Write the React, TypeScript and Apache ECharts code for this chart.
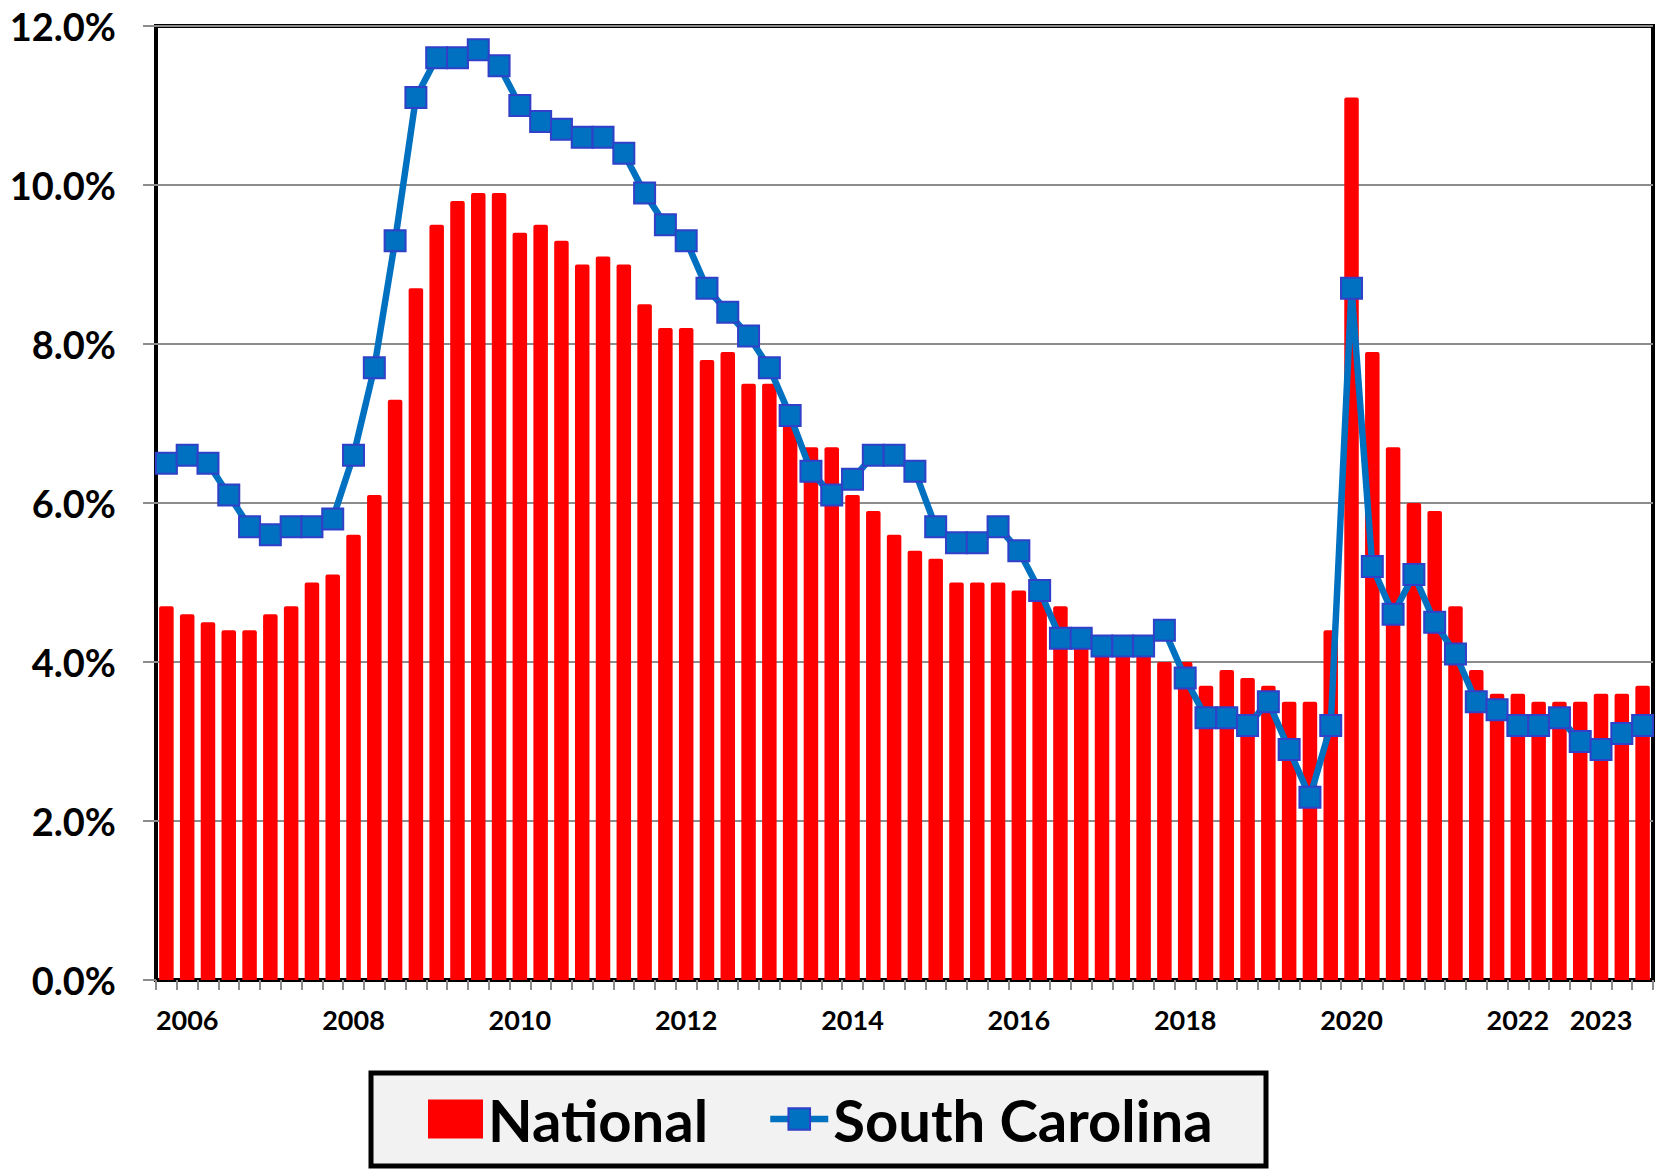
import React, { useEffect, useRef } from "react";
import * as echarts from "echarts";

const years = [
  2006, 2007, 2008, 2009, 2010, 2011, 2012, 2013, 2014,
  2015, 2016, 2017, 2018, 2019, 2020, 2021, 2022, 2023,
];
const quarterNames = ["Q1", "Q2", "Q3", "Q4"];
const categories = years.flatMap((y) => quarterNames.map((q) => `${y} ${q}`));

// Years that get a label (shown under the Q2 bar of that year)
const labeledYears = ["2006", "2008", "2010", "2012", "2014", "2016", "2018", "2020", "2022", "2023"];
const labeledQuarter = "Q2";

const national = [
  4.7, 4.6, 4.5, 4.4,
  4.4, 4.6, 4.7, 5.0,
  5.1, 5.6, 6.1, 7.3,
  8.7, 9.5, 9.8, 9.9,
  9.9, 9.4, 9.5, 9.3,
  9.0, 9.1, 9.0, 8.5,
  8.2, 8.2, 7.8, 7.9,
  7.5, 7.5, 7.2, 6.7,
  6.7, 6.1, 5.9, 5.6,
  5.4, 5.3, 5.0, 5.0,
  5.0, 4.9, 4.9, 4.7,
  4.4, 4.3, 4.2, 4.1,
  4.0, 4.0, 3.7, 3.9,
  3.8, 3.7, 3.5, 3.5,
  4.4, 11.1, 7.9, 6.7,
  6.0, 5.9, 4.7, 3.9,
  3.6, 3.6, 3.5, 3.5,
  3.5, 3.6, 3.6, 3.7,
];

const southCarolina = [
  6.5, 6.6, 6.5, 6.1,
  5.7, 5.6, 5.7, 5.7,
  5.8, 6.6, 7.7, 9.3,
  11.1, 11.6, 11.6, 11.7,
  11.5, 11.0, 10.8, 10.7,
  10.6, 10.6, 10.4, 9.9,
  9.5, 9.3, 8.7, 8.4,
  8.1, 7.7, 7.1, 6.4,
  6.1, 6.3, 6.6, 6.6,
  6.4, 5.7, 5.5, 5.5,
  5.7, 5.4, 4.9, 4.3,
  4.3, 4.2, 4.2, 4.2,
  4.4, 3.8, 3.3, 3.3,
  3.2, 3.5, 2.9, 2.3,
  3.2, 8.7, 5.2, 4.6,
  5.1, 4.5, 4.1, 3.5,
  3.4, 3.2, 3.2, 3.3,
  3.0, 2.9, 3.1, 3.2,
];

const yMin = 0;
const yMax = 12;
const yStep = 2;

export default function App() {
  const ref = useRef<HTMLDivElement>(null);

  useEffect(() => {
    document.body.style.margin = "0";
    document.body.style.overflow = "hidden";
    const chart = echarts.init(ref.current!, null, { renderer: "svg" });
    const font = "Lato";
    const isLabeled = (value: string) => {
      const [y, q] = value.split(" ");
      return q === labeledQuarter && labeledYears.includes(y);
    };
    chart.setOption({
      animation: false,
      backgroundColor: "#ffffff",
      grid: {
        left: 156,
        right: 8,
        top: 26,
        bottom: 189,
        show: true,
        borderColor: "#000000",
        borderWidth: 4,
        backgroundColor: "transparent",
      },
      xAxis: {
        type: "category",
        data: categories,
        boundaryGap: true,
        axisLine: { show: true, lineStyle: { color: "#000000", width: 4 } },
        axisTick: {
          show: true,
          interval: 0,
          length: 10,
          lineStyle: { color: "#8c8c8c", width: 2 },
        },
        axisLabel: {
          interval: (_i: number, value: string) => isLabeled(value),
          formatter: (value: string) => value.split(" ")[0],
          margin: 26,
          color: "#000000",
          fontFamily: font,
          fontWeight: "bold",
          fontSize: 27,
        },
        splitLine: { show: false },
      },
      yAxis: {
        type: "value",
        min: yMin,
        max: yMax,
        interval: yStep,
        axisLine: { show: false },
        axisTick: { show: true, length: 13, lineStyle: { color: "#8c8c8c", width: 2 } },
        axisLabel: {
          formatter: (v: number) => v.toFixed(1) + "%",
          margin: 40,
          color: "#000000",
          fontFamily: font,
          fontWeight: "bold",
          fontSize: 38,
        },
        splitLine: { show: true, lineStyle: { color: "#8c8c8c", width: 2 } },
      },
      legend: [
        {
          data: ["National"],
          left: 428,
          top: 1090,
          padding: 0,
          itemWidth: 55,
          itemHeight: 39,
          icon: "rect",
          selectedMode: false,
          textStyle: { fontFamily: font, fontWeight: "bold", fontSize: 58, color: "#000000" },
        },
        {
          data: ["South Carolina"],
          left: 767,
          top: 1090,
          padding: 0,
          itemWidth: 58,
          itemHeight: 27,
          selectedMode: false,
          lineStyle: { width: 6.5 },
          textStyle: { fontFamily: font, fontWeight: "bold", fontSize: 58, color: "#000000" },
        },
      ],
      graphic: [
        {
          type: "rect",
          z: 0,
          shape: { x: 371, y: 1073, width: 895, height: 93 },
          style: { fill: "#F2F2F2", stroke: "#000000", lineWidth: 5 },
        },
      ],
      series: [
        {
          name: "National",
          type: "bar",
          data: national,
          barWidth: 14.5,
          itemStyle: { color: "#FF0000", borderRadius: [2, 2, 0, 0] },
          z: 2,
        },
        {
          name: "South Carolina",
          type: "line",
          data: southCarolina,
          symbol: "rect",
          symbolSize: 21,
          showAllSymbol: true,
          lineStyle: { color: "#0070C0", width: 6.5 },
          itemStyle: { color: "#0070C0", borderColor: "#3040C8", borderWidth: 2 },
          z: 3,
        },
      ],
    });
    return () => chart.dispose();
  }, []);

  return (
    <div
      ref={ref}
      style={{ position: "absolute", left: 0, top: 0, width: 1661, height: 1169 }}
    />
  );
}
